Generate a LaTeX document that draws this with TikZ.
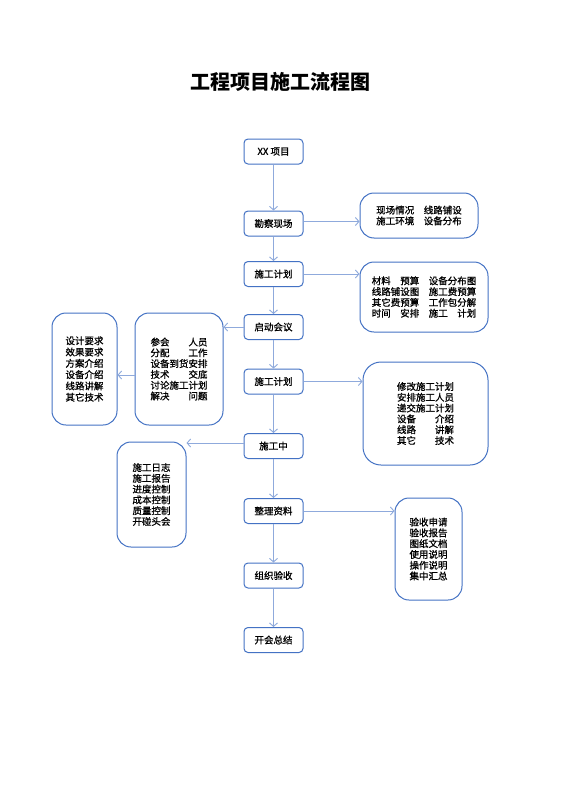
\documentclass[tikz,border=0pt]{standalone}
\usepackage{fontspec}
\setmainfont{Noto Sans CJK SC}[FakeBold=1]
\newfontfamily\titlefont{Noto Sans CJK SC}
\usetikzlibrary{arrows.meta}
\definecolor{boxc}{RGB}{68,114,196}
\definecolor{arrowc}{RGB}{143,170,220}
\newcommand{\jl}[3]{\makebox[#1]{#2\hfill #3}}
\tikzset{
  mainbox/.style={draw=boxc, line width=1pt, rounded corners=4pt, minimum width=59pt, minimum height=25pt, inner sep=0pt, font=\fontsize{9.5}{11}\selectfont},
  bigbox/.style={draw=boxc, line width=1pt, rounded corners=14pt, inner sep=0pt, align=left, font=\fontsize{9.5}{10.8}\selectfont},
  conn/.style={draw=arrowc, line width=0.9pt, -{Straight Barb[length=3.5pt,width=8pt]}},
}
\begin{document}
\begin{tikzpicture}[x=1pt,y=-1pt]
\useasboundingbox (0,0) rectangle (560,792);
\fill[white] (0,0) rectangle (560,792);
\node[font=\titlefont\fontsize{20}{24}\selectfont\bfseries] (title) at (280,82) {工程项目施工流程图};

\node[mainbox] (xx)  at (273.5,151.5) {XX 项目};
\node[mainbox] (kc)  at (273.5,223.5) {勘察现场};
\node[mainbox] (sj1) at (273.5,274) {施工计划};
\node[mainbox] (qd)  at (273.5,327) {启动会议};
\node[mainbox] (sj2) at (273.5,381.5) {施工计划};
\node[mainbox] (sgz) at (273.5,446) {施工中};
\node[mainbox] (zl)  at (273.5,511) {整理资料};
\node[mainbox] (zz)  at (273.5,575.5) {组织验收};
\node[mainbox] (kh)  at (273.5,640) {开会总结};

\node[bigbox, minimum width=118pt, minimum height=45pt] (r1) at (419,215.5)
  {现场情况\hspace{1em}线路铺设\\施工环境\hspace{1em}设备分布};
\node[bigbox, minimum width=128pt, minimum height=70pt] (r2) at (424,297)
  {\jl{5em}{材料}{预算}\hspace{1em}设备分布图\\
   线路铺设图\hspace{1em}施工费预算\\
   其它费预算\hspace{1em}工作包分解\\
   \jl{5em}{时间}{安排}\hspace{1em}\jl{5em}{施工}{计划}};
\node[bigbox, minimum width=88pt, minimum height=112pt] (m) at (179,369)
  {\jl{6em}{参会}{人员}\\\jl{6em}{分配}{工作}\\设备到货安排\\\jl{6em}{技术}{交底}\\讨论施工计划\\\jl{6em}{解决}{问题}};
\node[bigbox, minimum width=65pt, minimum height=112pt, font=\fontsize{9.5}{11.3}\selectfont] (l) at (84.5,369)
  {设计要求\\效果要求\\方案介绍\\设备介绍\\线路讲解\\其它技术};
\node[bigbox, rounded corners=18pt, minimum width=125pt, minimum height=103pt] (r3) at (425.5,413.5)
  {修改施工计划\\安排施工人员\\递交施工计划\\\jl{6em}{设备}{介绍}\\\jl{6em}{线路}{讲解}\\\jl{6em}{其它}{技术}};
\node[bigbox, minimum width=69pt, minimum height=105pt] (b4) at (151.5,494.5)
  {施工日志\\施工报告\\进度控制\\成本控制\\质量控制\\开碰头会};
\node[bigbox, minimum width=67pt, minimum height=102pt] (b5) at (428.5,549)
  {验收申请\\验收报告\\图纸文档\\使用说明\\操作说明\\集中汇总};

\draw[conn] (xx) -- (kc);
\draw[conn] (kc) -- (sj1);
\draw[conn] (sj1) -- (qd);
\draw[conn] (qd) -- (sj2);
\draw[conn] (sj2) -- (sgz);
\draw[conn] (sgz) -- (zl);
\draw[conn] (zl) -- (zz);
\draw[conn] (zz) -- (kh);

\draw[conn] ([yshift=2pt]kc.east) -- ([yshift=2pt]kc.east -| r1.west);
\draw[conn] (sj1.east) -- (sj1.east -| r2.west);
\draw[conn] (sj2.east) -- (sj2.east -| r3.west);
\draw[conn] (zl.east) -- (zl.east -| b5.west);
\draw[conn] (qd.west) -- (qd.west -| m.east);
\draw[conn] ([yshift=-6pt]m.west) -- ([yshift=-6pt]m.west -| l.east);
\draw[conn] ([yshift=3pt]sgz.west) -- ([yshift=3pt]sgz.west -| b4.east);
\end{tikzpicture}
\end{document}
